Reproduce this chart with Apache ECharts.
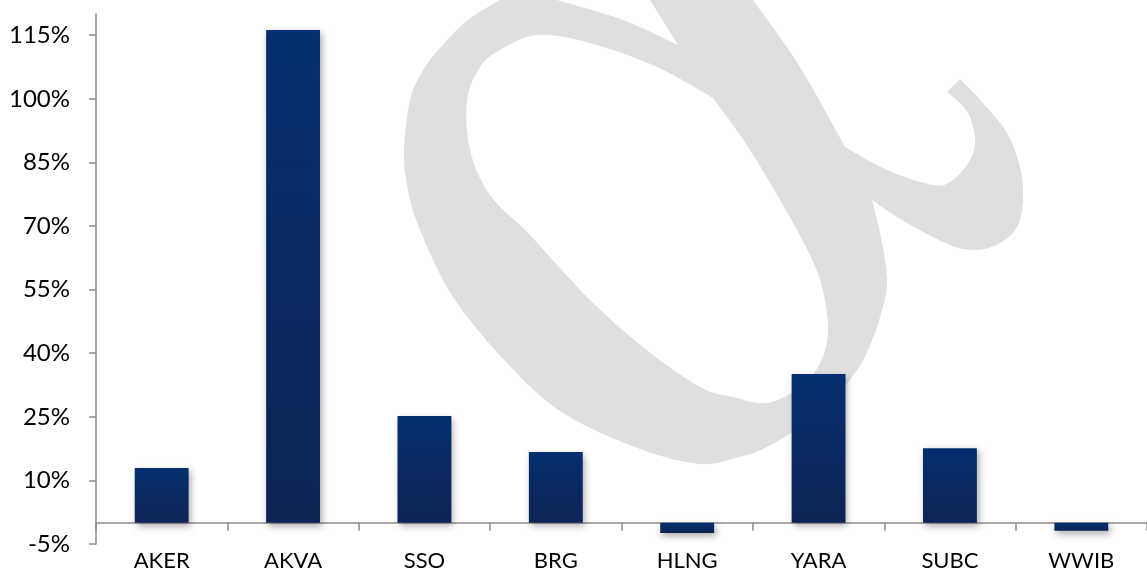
<!DOCTYPE html>
<html>
<head>
<meta charset="utf-8">
<script src="https://cdn.jsdelivr.net/npm/echarts@6/dist/echarts.min.js"></script>
<style>
html,body{margin:0;padding:0;background:#fff;}
#c{width:1147px;height:572px;}
</style>
</head>
<body>
<div id="c"></div>
<script>
const categories = ['AKER','AKVA','SSO','BRG','HLNG','YARA','SUBC','WWIB'];
const returns = [12.9, 116.2, 25.2, 16.7, -2.4, 35.1, 17.6, -1.9];
const yTicks = [-5, 10, 25, 40, 55, 70, 85, 100, 115];

const FONT = 'Lato';

// decorative "alpha" watermark outline (background artwork, not data)
function smoothRun(pts) {
  const out = [];
  for (let i = 0; i < pts.length - 1; i++) {
    const p0 = pts[Math.max(i - 1, 0)], p1 = pts[i], p2 = pts[i + 1], p3 = pts[Math.min(i + 2, pts.length - 1)];
    const c1 = [p1[0] + (p2[0] - p0[0]) / 6, p1[1] + (p2[1] - p0[1]) / 6];
    const c2 = [p2[0] - (p3[0] - p1[0]) / 6, p2[1] - (p3[1] - p1[1]) / 6];
    for (let k = 0; k < 8; k++) {
      const t = k / 8, u = 1 - t;
      out.push([
        u*u*u*p1[0] + 3*u*u*t*c1[0] + 3*u*t*t*c2[0] + t*t*t*p2[0],
        u*u*u*p1[1] + 3*u*u*t*c1[1] + 3*u*t*t*c2[1] + t*t*t*p2[1]
      ]);
    }
  }
  out.push(pts[pts.length - 1]);
  return out;
}
const wmOuter = [].concat(
  [[500,0]],
  smoothRun([[557,0],[623,20],[678,45]]),
  [[650,0]],
  smoothRun([[753,0],[800,67],[845,147]]),
  smoothRun([[845,147],[887,170],[933,185],[953,180],[970,160],[975,140],[970,117],[960,103],[947,92]]),
  smoothRun([[960,79],[983,103],[1007,133],[1020,167],[1023,200],[1017,227],[1000,243],[977,250],[950,245],[907,223],[872,200]]),
  smoothRun([[872,200],[880,233],[885,260],[887,285],[882,310],[873,338],[857,370],[820,413],[767,447],[735,458],[700,464],[640,449],[563,413],[507,363],[453,297],[420,230],[408,190],[404,150],[410,100],[422,72],[440,48],[468,20],[500,0]])
);
const wmInner = smoothRun([[713,98],[750,150],[797,230],[820,280],[828,330],[820,363],[800,387],[767,403],[733,397],[700,387],[643,347],[587,297],[530,235],[490,195],[470,150],[467,100],[480,67],[500,50],[537,35],[590,43],[657,67],[713,98]]);

const chart = echarts.init(document.getElementById('c'));
chart.setOption({
  animation: false,
  backgroundColor: '#ffffff',
  graphic: [
    {type:'polygon', z:0, silent:true, shape:{points: wmOuter}, style:{fill:'#dfdfdf'}},
    {type:'polygon', z:1, silent:true, shape:{points: wmInner}, style:{fill:'#ffffff'}}
  ],
  grid: {left: 96, right: 0, top: 14, bottom: 28, containLabel: false},
  xAxis: [{
    type: 'category',
    data: categories,
    axisLine: {onZero: true, lineStyle: {color: '#8c8c8c', width: 1.5}},
    axisTick: {show: true, length: 8, inside: false, lineStyle: {color: '#8c8c8c', width: 1.5}},
    axisLabel: {show: false},
    splitLine: {show: false}
  }, {
    type: 'category',
    data: categories,
    position: 'bottom',
    axisLine: {show: false, onZero: false},
    axisTick: {show: false},
    axisLabel: {color: '#000', fontFamily: FONT, fontSize: 22, margin: 6, interval: 0},
    splitLine: {show: false}
  }],
  yAxis: {
    type: 'value',
    min: -5, max: 120, interval: 15,
    axisLine: {show: true, lineStyle: {color: '#8c8c8c', width: 1.5}},
    axisTick: {show: true, length: 7, customValues: yTicks, lineStyle: {color: '#8c8c8c', width: 1.5}},
    axisLabel: {color: '#000', fontFamily: FONT, fontSize: 24, margin: 26, customValues: yTicks, formatter: v => v + '%'},
    splitLine: {show: false}
  },
  series: [{
    type: 'bar',
    data: returns,
    xAxisIndex: 0,
    barWidth: '41%',
    z: 5,
    itemStyle: {
      color: new echarts.graphic.LinearGradient(0,0,0,1,[{offset:0,color:'#032f6f'},{offset:1,color:'#0e2354'}]),
      shadowColor: 'rgba(0,0,0,0.35)', shadowBlur: 7, shadowOffsetX: 2, shadowOffsetY: 3
    }
  }]
});
</script>
</body>
</html>
